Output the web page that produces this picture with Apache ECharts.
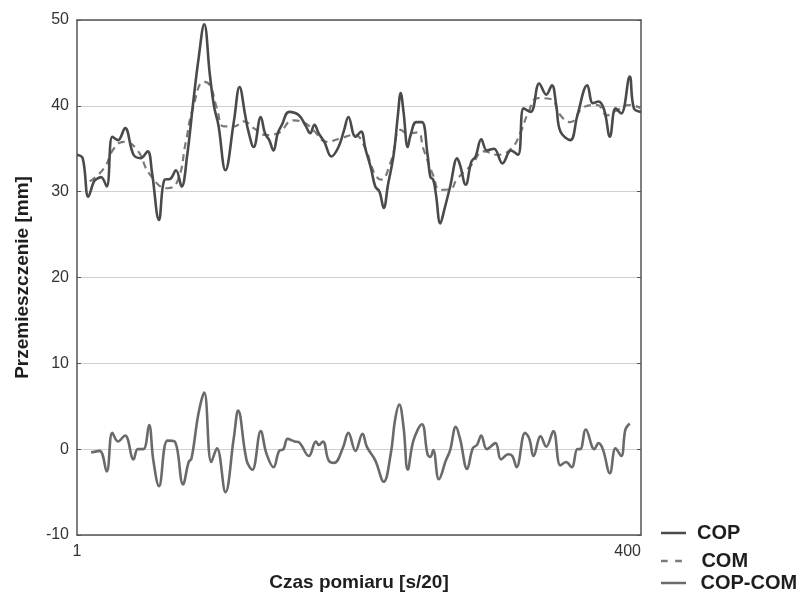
<!DOCTYPE html>
<html>
<head>
<meta charset="utf-8">
<script src="https://cdn.jsdelivr.net/npm/echarts@6/dist/echarts.min.js"></script>
<style>
  html, body { margin: 0; padding: 0; background: #fff; }
  #chart { width: 802px; height: 595px; }
</style>
</head>
<body>
<div id="chart"></div>
<script>
// Sample index (1..400) and displacement readings in mm
const copT = [1,5,9,13,15,18,22,26,30,35,41,46,51,54,59,63,67,71,75,79,83,87,91,95,98,101,106,112,116,120,122,126,131,134,137,140,143,146,151,158,163,166,169,172,176,181,186,190,193,198,202,205,209,212,215,218,221,225,228,230,232,235,237,241,245,249,251,253,255,258,261,265,270,272,276,280,283,287,291,296,302,308,313,317,322,328,333,337,340,343,350,355,362,366,370,374,378,382,386,392,395,400];
const copV = [34.3,33.9,29.4,31.2,31.5,31.7,30.6,36.4,36.0,37.4,34.3,33.9,34.7,32.3,26.7,31.4,31.5,32.5,30.6,34.3,40.1,45.5,49.5,43.6,39.9,37.8,32.5,38.2,42.2,38.9,37.2,35.2,38.7,36.8,36.0,34.8,36.8,37.8,39.3,38.9,37.6,36.8,37.8,36.8,35.8,34.1,35.2,37.2,38.7,36.4,37.0,35.0,32.7,30.6,30.0,28.1,30.8,34.3,38.9,41.5,39.3,35.2,36.6,38.1,38.1,34.3,31.7,31.4,29.6,26.3,28.0,30.6,33.9,33.1,30.8,33.5,34.1,36.1,34.8,35.0,33.3,34.8,34.3,39.7,39.3,42.6,41.3,42.4,40.1,37.0,36.0,38.9,42.4,40.3,40.5,39.5,36.4,39.7,39.1,43.4,39.7,39.3];

const comT = [10,20,27,34,43,53,65,72,78,83,91,95,100,105,112,119,126,135,143,154,161,168,178,187,197,204,211,216,223,230,235,242,246,253,258,265,270,280,289,298,308,315,320,327,336,343,350,360,369,376,383,392,400];
const comV = [31.2,32.7,35.0,35.8,35.0,31.9,30.4,31.2,35.8,39.7,42.8,42.4,39.7,37.6,37.6,38.2,37.4,36.6,36.8,38.3,38.1,37.2,35.8,36.2,36.6,35.4,32.3,31.4,33.5,37.2,36.8,36.9,35.0,31.9,30.2,30.3,31.5,33.1,34.7,34.3,35.0,37.0,39.1,40.9,40.8,38.9,38.1,39.9,40.1,38.9,39.5,40.1,39.7];

const diffT = [11,17,22,26,30,35,41,44,48,52,55,59,65,70,76,80,82,87,91,96,100,106,112,115,121,125,131,135,140,144,147,150,155,158,165,170,172,175,179,183,189,193,198,203,206,212,218,223,226,229,232,235,239,245,249,251,253,257,262,265,269,272,277,281,284,287,291,297,301,306,309,312,318,321,324,329,333,338,343,347,351,355,357,361,367,370,373,378,382,386,389,392];
const diffV = [-0.4,-0.2,-2.6,1.9,0.9,1.6,-1.2,0,0,2.8,-1.3,-4.3,1.0,0.9,-4.1,-1.5,-1.1,4.2,6.6,-1.5,0.1,-5.0,1.4,4.5,-1.3,-2.4,2.1,-0.5,-2.1,-0.2,0,1.2,0.9,0.8,-0.8,0.9,0.5,0.9,-1.3,-1.6,0.1,1.9,-0.2,1.8,0.3,-1.3,-3.8,-0.5,3.4,5.2,2.6,-2.4,1.0,2.9,-0.6,-0.9,-0.1,-3.5,-1.3,-0.1,2.6,1.2,-2.3,0.1,0.5,1.6,0,0.7,-1.2,-0.6,-0.8,-2.1,1.9,1.2,-0.8,1.5,0.3,2.1,-1.9,-1.5,-2.1,0,0,2.3,0,0.7,0,-2.8,0.1,-0.8,2.3,3.0];

const xEnds = [1, 400];
const yTicks = [-10, 0, 10, 20, 30, 40, 50];

const pairs = (t, v) => t.map((x, i) => [x, v[i]]);

const FONT = 'Liberation Sans';
const chart = echarts.init(document.getElementById('chart'));

// Legend keys: a solid bar and a two-dash bar
const SOLID_KEY = 'path://M0,0h30v3h-30z';
const DASH_KEY = 'path://M0,0h8v3h-8z M17,0h8v3h-8z';

const legendText = (padLeft) => ({
  fontFamily: FONT, fontSize: 20, fontWeight: 'bold', color: '#1e1e1e',
  padding: [0, 0, 0, padLeft]
});
const legendBase = { left: 661, padding: 0, itemHeight: 2.5, itemGap: 0 };
const frameLine = { show: true, onZero: false, lineStyle: { color: '#555', width: 1.5 } };
const titleStyle = { fontFamily: FONT, fontSize: 19, fontWeight: 'bold', color: '#1e1e1e' };

chart.setOption({
  animation: false,
  textStyle: { fontFamily: FONT },
  grid: { left: 77, right: 161, top: 20, bottom: 60, containLabel: false, outerBoundsMode: 'none' },
  legend: [
    Object.assign({}, legendBase, { data: [{ name: 'COP', icon: SOLID_KEY }], top: 523,
      itemWidth: 29, textStyle: legendText(4) }),
    Object.assign({}, legendBase, { data: [{ name: 'COM', icon: DASH_KEY }], top: 551,
      itemWidth: 24, textStyle: legendText(13) }),
    Object.assign({}, legendBase, { data: [{ name: 'COP-COM', icon: SOLID_KEY }], top: 573,
      itemWidth: 34, textStyle: legendText(5) })
  ],
  xAxis: [
    {
      type: 'value', min: xEnds[0], max: xEnds[1],
      name: 'Czas pomiaru [s/20]', nameLocation: 'middle', nameGap: 38,
      nameTextStyle: titleStyle,
      axisLine: frameLine,
      axisTick: { show: false },
      splitLine: { show: false },
      axisLabel: {
        color: '#333', fontSize: 16, margin: 9, showMinLabel: true, showMaxLabel: true,
        alignMaxLabel: 'right',
        formatter: v => (xEnds.includes(v) ? String(v) : '')
      }
    },
    {
      type: 'value', position: 'top', min: xEnds[0], max: xEnds[1],
      axisLine: frameLine,
      axisTick: { show: false }, axisLabel: { show: false }, splitLine: { show: false }
    }
  ],
  yAxis: [
    {
      type: 'value', min: -10, max: 50, interval: 10,
      name: 'Przemieszczenie [mm]', nameLocation: 'middle', nameGap: 45,
      nameTextStyle: titleStyle,
      axisLine: frameLine,
      axisTick: { show: true, inside: true, length: 4, lineStyle: { color: '#555' } },
      axisLabel: { color: '#333', fontSize: 16, margin: 8,
        formatter: v => (yTicks.includes(v) ? String(v) : '') },
      splitLine: { show: true, lineStyle: { color: '#d0d0d0', width: 1 } }
    },
    {
      type: 'value', position: 'right', min: -10, max: 50, interval: 10,
      axisLine: frameLine,
      axisTick: { show: true, inside: true, length: 4, lineStyle: { color: '#555' } },
      axisLabel: { show: false }, splitLine: { show: false }
    }
  ],
  series: [
    {
      name: 'COP', type: 'line', data: pairs(copT, copV), smooth: 0.4, symbol: 'none',
      lineStyle: { color: '#4a4a4a', width: 2.6 }, itemStyle: { color: '#4a4a4a' }, z: 3
    },
    {
      name: 'COM', type: 'line', data: pairs(comT, comV), smooth: 0.5, symbol: 'none',
      lineStyle: { color: '#7a7a7a', width: 2.2, type: [7, 5] }, itemStyle: { color: '#7a7a7a' }, z: 2
    },
    {
      name: 'COP-COM', type: 'line', data: pairs(diffT, diffV), smooth: 0.4, symbol: 'none',
      lineStyle: { color: '#6a6a6a', width: 2.6 }, itemStyle: { color: '#6a6a6a' }, z: 2
    }
  ]
});
</script>
</body>
</html>
